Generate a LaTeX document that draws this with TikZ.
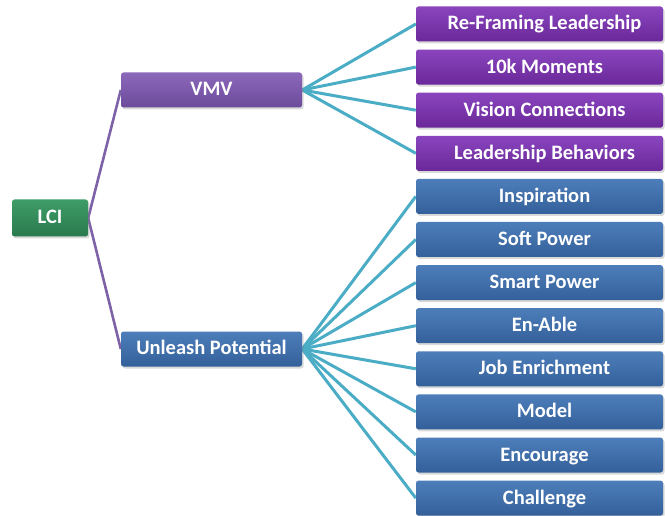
\documentclass[tikz,border=0pt]{standalone}
\usepackage{fontspec}
\setmainfont{Carlito}
\usetikzlibrary{shadows,backgrounds}
\definecolor{pleaftop}{HTML}{8A45BE}
\definecolor{pleafbot}{HTML}{6A2899}
\definecolor{bleaftop}{HTML}{4D7EBA}
\definecolor{bleafbot}{HTML}{34609A}
\definecolor{vmvtop}{HTML}{8C68BA}
\definecolor{vmvbot}{HTML}{6C4B9B}
\definecolor{lcitop}{HTML}{3E9C68}
\definecolor{lcibot}{HTML}{297A4D}
\definecolor{teal}{HTML}{4BACC6}
\definecolor{trunk}{HTML}{7E62A8}
\tikzset{
  box/.style={rounded corners=2.5pt, minimum height=35pt, inner sep=0pt, text=white,
    text height=13pt, text depth=1pt,
    font=\bfseries\fontsize{20.5}{22}\selectfont,
    drop shadow={shadow xshift=1.5pt, shadow yshift=-2pt, opacity=0.3}},
  pleaf/.style={box, minimum width=247pt, top color=pleaftop, bottom color=pleafbot},
  bleaf/.style={box, minimum width=247pt, top color=bleaftop, bottom color=bleafbot},
  midbox/.style={box, minimum width=181pt},
  tealline/.style={draw=teal, line width=3pt},
  trunkline/.style={draw=trunk, line width=2.6pt}
}
\begin{document}
\begin{tikzpicture}[x=1pt,y=-1pt]
\useasboundingbox (0,0) rectangle (665,516);
\clip (0,0) rectangle (665,516);
\node[box, minimum width=76pt, minimum height=37pt, top color=lcitop, bottom color=lcibot] (lci) at (50,218) {LCI};
\node[midbox, top color=vmvtop, bottom color=vmvbot] (vmv) at (211.5,90) {VMV};
\node[midbox, top color=bleaftop, bottom color=bleafbot] (up) at (211.5,349) {Unleash Potential};
\foreach \t [count=\i from 0] in {Re-Framing Leadership,10k Moments,Vision Connections,Leadership Behaviors}{
  \node[pleaf] (p\i) at (539.5,{24+43.1*\i}) {\hspace*{10pt}\t};
}
\foreach \t [count=\i from 4] in {Inspiration,Soft Power,Smart Power,En-Able,Job Enrichment,Model,Encourage,Challenge}{
  \node[bleaf] (p\i) at (539.5,{24+43.1*\i}) {\hspace*{10pt}\t};
}
\begin{scope}[on background layer]
\foreach \i in {0,...,3}{\draw[tealline] (vmv.east) -- (p\i.west);}
\foreach \i in {4,...,11}{\draw[tealline] (up.east) -- (p\i.west);}
\draw[trunkline] (lci.east) -- (vmv.west);
\draw[trunkline] (lci.east) -- (up.west);
\end{scope}
\end{tikzpicture}
\end{document}
